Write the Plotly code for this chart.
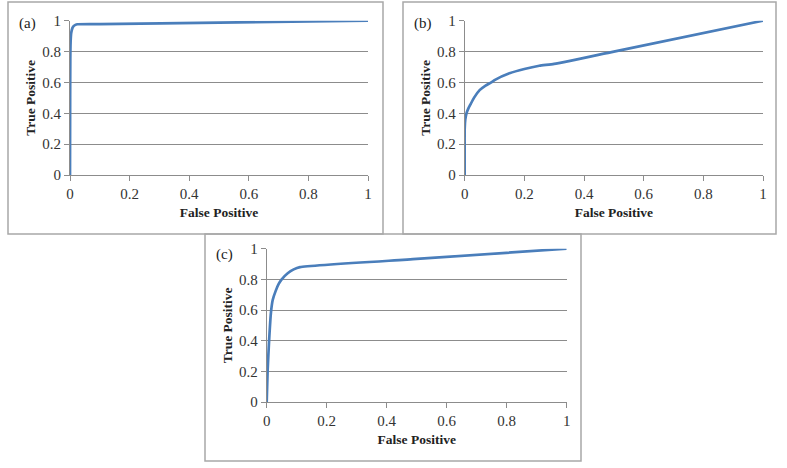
import plotly.graph_objects as go

# ---- data ----
fp_a = [0, 0.0005, 0.001, 0.002, 0.004, 0.008, 0.012, 0.018, 0.025, 0.1, 0.5, 1.0]
tp_a = [0, 0.5, 0.75, 0.86, 0.92, 0.952, 0.965, 0.973, 0.977, 0.978, 0.987, 1.0]

fp_b = [0, 0.0, 0.002, 0.006, 0.012, 0.02, 0.031, 0.05, 0.07, 0.089, 0.1, 0.15, 0.2, 0.25, 0.3, 0.5, 1.0]
tp_b = [0, 0.3, 0.36, 0.40, 0.43, 0.46, 0.50, 0.55, 0.58, 0.60, 0.615, 0.659, 0.687, 0.708, 0.72, 0.80, 1.0]

fp_c = [0, 0.003, 0.008, 0.014, 0.02, 0.03, 0.04, 0.05, 0.07, 0.09, 0.111, 0.5, 1.0]
tp_c = [0, 0.2, 0.4, 0.58, 0.665, 0.725, 0.77, 0.80, 0.84, 0.865, 0.88, 0.933, 1.0]

tick_vals = [0, 0.2, 0.4, 0.6, 0.8, 1]
tick_text = ["0", "0.2", "0.4", "0.6", "0.8", "1"]
panel_labels = ["(a)", "(b)", "(c)"]
x_title = "False Positive"
y_title = "True Positive"

W, H = 787, 468
FONT = "'Palatino Linotype', 'Book Antiqua', Palatino, 'Liberation Serif', serif"
LINE = "#4A7EBB"
GRID = "#8c8c8c"
BOX = "#a8a8a8"

def px(x):
    return x / W

def py(y):
    return 1 - y / H

# plot areas in pixels: (x0, x1, ytop, ybottom)
areas = [(70, 368, 20.7, 175), (464.7, 763, 20.7, 175), (266.7, 566.7, 248.7, 402)]
boxes = [(8, 383, 2, 234), (403, 776, 2, 234), (205, 581, 234, 461)]
series = [(fp_a, tp_a), (fp_b, tp_b), (fp_c, tp_c)]

fig = go.Figure()
layout = dict(
    width=W, height=H,
    margin=dict(l=0, r=0, t=0, b=0, pad=0),
    paper_bgcolor="white", plot_bgcolor="white",
    showlegend=False,
    font=dict(family=FONT, color="#222222"),
)
shapes = []
annotations = []
for i, ((x0, x1, yt, yb), (bx0, bx1, by0, by1), (xs, ys)) in enumerate(zip(areas, boxes, series)):
    n = "" if i == 0 else str(i + 1)
    fig.add_trace(go.Scatter(x=xs, y=ys, mode="lines",
                             line=dict(color=LINE, width=2.7, shape="spline", smoothing=0.5),
                             xaxis="x" + n, yaxis="y" + n, hoverinfo="skip"))
    layout["xaxis" + n] = dict(
        domain=[px(x0), px(x1)], anchor="y" + n, range=[0, 1], automargin=False,
        tickvals=tick_vals, ticktext=tick_text, ticks="outside", ticklen=5,
        tickcolor=GRID, showline=True, linecolor=GRID, linewidth=1,
        showgrid=False, zeroline=False,
        tickfont=dict(family=FONT, size=15, color="#333333"),
        title=dict(text="<b>" + x_title + "</b>", font=dict(family=FONT, size=13.5, color="#222222"), standoff=6),
        fixedrange=True,
    )
    layout["yaxis" + n] = dict(
        domain=[py(yb), py(yt)], anchor="x" + n, range=[0, 1], automargin=False,
        tickvals=tick_vals, ticktext=tick_text, ticks="outside", ticklen=5,
        tickcolor=GRID, showline=True, linecolor=GRID, linewidth=1,
        showgrid=True, gridcolor=GRID, gridwidth=1, zeroline=False,
        tickfont=dict(family=FONT, size=15, color="#333333"),
        title=dict(text="<b>" + y_title + "</b>", font=dict(family=FONT, size=13.5, color="#222222"), standoff=3),
        fixedrange=True,
    )
    shapes.append(dict(type="rect", xref="paper", yref="paper",
                       x0=px(bx0), x1=px(bx1), y0=py(by1), y1=py(by0),
                       line=dict(color=BOX, width=1.5), fillcolor="rgba(0,0,0,0)", layer="below"))
    annotations.append(dict(text=panel_labels[i], xref="paper", yref="paper",
                            x=px(bx0 + 9), y=py(by0 + 21), xanchor="left", yanchor="middle",
                            showarrow=False, font=dict(family=FONT, size=15, color="#222222")))

layout["shapes"] = shapes
layout["annotations"] = annotations
fig.update_layout(**layout)
fig.write_html("out.html", config={"displayModeBar": False},
               post_script="document.body.style.margin='0';document.body.style.overflow='hidden';")
